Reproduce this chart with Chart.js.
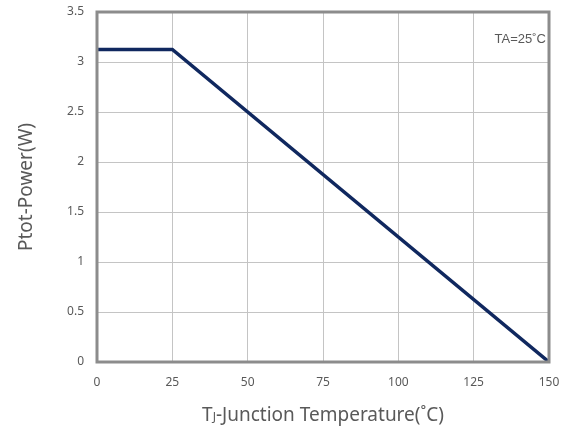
<!DOCTYPE html>
<html>
<head>
<meta charset="utf-8">
<script src="https://cdn.jsdelivr.net/npm/chart.js@4/dist/chart.umd.min.js"></script>
<style>
  html, body { margin: 0; padding: 0; background: #fff; }
  #wrap { width: 568px; height: 431px; position: relative; }
</style>
</head>
<body>
<div id="wrap"><canvas id="derating-chart"></canvas></div>
<script>
// 降额曲线数据
const tempPoints = [0, 25, 150];
const powerPoints = [3.125, 3.125, 0];
const xTicks = [0, 25, 50, 75, 100, 125, 150];
const yTicks = [0, 0.5, 1, 1.5, 2, 2.5, 3, 3.5];

const tickColor = '#595959';

// 边框和文字插件
const decorPlugin = {
    id: 'decor',
    afterDraw(chart) {
        const { ctx, chartArea: a } = chart;
        ctx.save();
        // 外框
        ctx.strokeStyle = '#8c8c8c';
        ctx.lineWidth = 3;
        ctx.strokeRect(a.left, a.top, a.right - a.left, a.bottom - a.top);

        ctx.fillStyle = tickColor;
        // 标注 TA=25˚C
        ctx.font = '13px "Liberation Sans", Arial, sans-serif';
        ctx.textBaseline = 'middle';
        ctx.textAlign = 'right';
        ctx.fillText('TA=25˚C', a.right - 3, 39);

        // X 轴标题
        ctx.textBaseline = 'alphabetic';
        ctx.textAlign = 'left';
        const big = '19px "Noto Sans", "Open Sans", sans-serif';
        const small = '12px "Noto Sans", "Open Sans", sans-serif';
        const rest = '-Junction Temperature(˚C)';
        ctx.font = big;
        const wT = ctx.measureText('T').width;
        const wRest = ctx.measureText(rest).width;
        ctx.font = small;
        const wJ = ctx.measureText('J').width;
        const total = wT + wJ + wRest;
        let x = (a.left + a.right) / 2 - total / 2;
        const y = 421;
        ctx.font = big;
        ctx.fillText('T', x, y);
        x += wT;
        ctx.font = small;
        ctx.fillText('J', x, y);
        x += wJ;
        ctx.font = big;
        ctx.fillText(rest, x, y);

        // Y 轴标题
        ctx.translate(27, (a.top + a.bottom) / 2);
        ctx.rotate(-Math.PI / 2);
        ctx.textAlign = 'center';
        ctx.textBaseline = 'middle';
        ctx.font = big;
        ctx.fillText('Ptot-Power(W)', 0, 0);
        ctx.restore();
    }
};

const ctx = document.getElementById('derating-chart');
new Chart(ctx, {
    type: 'scatter',
    data: {
        datasets: [{
            data: tempPoints.map((t, i) => ({ x: t, y: powerPoints[i] })),
            showLine: true,
            borderColor: '#10285f',
            borderWidth: 3.5,
            pointRadius: 0,
            tension: 0
        }]
    },
    options: {
        responsive: true,
        maintainAspectRatio: false,
        animation: false,
        layout: { padding: { left: 0, top: 12, right: 19, bottom: 0 } },
        plugins: {
            legend: { display: false },
            tooltip: { enabled: false }
        },
        scales: {
            x: {
                type: 'linear',
                min: 0,
                max: 150,
                afterBuildTicks: s => { s.ticks = xTicks.map(v => ({ value: v })); },
                afterFit: s => {
                    s.height = 69;
                    s.paddingLeft = 0;
                    s.paddingRight = 0;
                },
                grid: { color: '#c4c4c4', lineWidth: 1, drawTicks: false },
                border: { display: false },
                ticks: {
                    padding: 13,
                    color: tickColor,
                    font: { family: '"Noto Sans", "Open Sans", sans-serif', size: 12 },
                    maxRotation: 0
                }
            },
            y: {
                min: 0,
                max: 3.5,
                afterBuildTicks: s => { s.ticks = yTicks.map(v => ({ value: v })); },
                afterFit: s => {
                    s.width = 97;
                    s.paddingTop = 0;
                    s.paddingBottom = 0;
                },
                grid: { color: '#c4c4c4', lineWidth: 1, drawTicks: false },
                border: { display: false },
                ticks: {
                    padding: 13,
                    color: tickColor,
                    font: { family: '"Noto Sans", "Open Sans", sans-serif', size: 12 },
                    callback: v => String(v)
                }
            }
        }
    },
    plugins: [decorPlugin]
});
</script>
</body>
</html>
